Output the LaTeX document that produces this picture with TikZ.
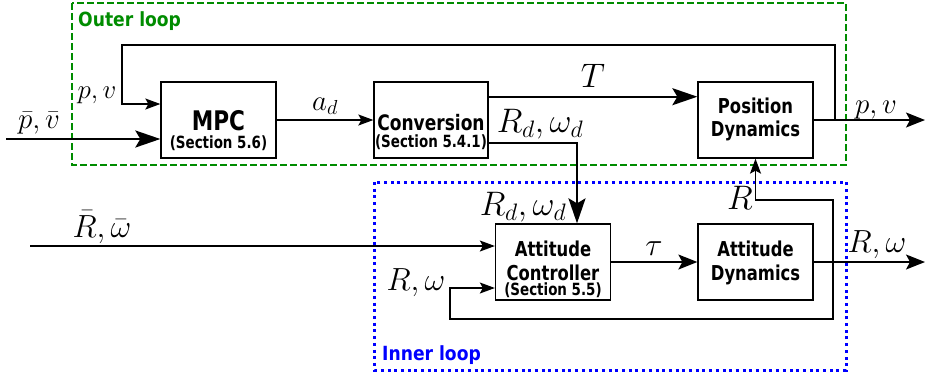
\RequirePackage{fix-cm}
\documentclass[tikz,border=0pt]{standalone}
\usepackage{fontspec}
\setsansfont{DejaVu Sans}
\newfontfamily\boxfont[FakeStretch=0.8]{DejaVu Sans Bold}
\newfontfamily\loopfont[FakeStretch=0.88]{DejaVu Sans Bold}
\usetikzlibrary{arrows.meta}
\definecolor{loopgreen}{RGB}{0,140,0}
\definecolor{loopblue}{RGB}{0,0,255}
\newcommand{\secfont}{\fontsize{16.8}{18}\selectfont}

\begin{document}
\begin{tikzpicture}[x=1pt,y=-1pt,
  block/.style={draw, line width=1.3pt, minimum width=115pt, minimum height=76pt,
    inner sep=0pt, align=center, text depth=0pt,
    font=\boxfont\fontsize{20.5}{23.5}\selectfont},
  wire/.style={line width=1.3pt},
  bus/.style={line width=2.2pt},
  smalltip/.style={-{Stealth[length=15pt,width=11pt,inset=3pt]}},
  midtip/.style={-{Stealth[length=19pt,width=15pt,inset=4pt]}},
  bigtip/.style={-{Stealth[length=25pt,width=17pt,inset=5pt]}},
  lab/.style={anchor=base, inner sep=0pt, font=\fontsize{29}{29}\selectfont},
  biglab/.style={lab, font=\fontsize{34}{34}\selectfont},
  midlab/.style={lab, font=\fontsize{32}{32}\selectfont},
  looplab/.style={anchor=base west, inner sep=0pt, font=\loopfont\fontsize{19.5}{20}\selectfont}
]
\useasboundingbox (0,0) rectangle (925,376);

% loop frames
\draw[loopgreen, line width=2pt, dash pattern=on 6.7pt off 3.3pt] (72,3) rectangle (846,165);
\draw[loopblue, line width=3pt, dash pattern=on 3pt off 3.7pt] (374.5,182) rectangle (846,370);
\node[looplab, text=loopgreen] (outerlab) at (78,26) {Outer loop};
\node[looplab, text=loopblue] (innerlab) at (382,360) {Inner loop};

% blocks (text height places the last baseline below the centre)
\node[block, text height=56pt] (mpc) at (218.5,120)
  {{\fontsize{27}{27}\selectfont MPC}\\[-6pt]{\secfont (Section 5.6)}};
\node[block, minimum width=114pt, text height=54pt] (conv) at (431,120)
  {{\fontsize{21.3}{23.5}\selectfont Conversion}\\[-6.5pt]{\secfont (Section 5.4.1)}};
\node[block, text height=33.4pt] (posdyn) at (755.5,120) {Position\\Dynamics};
\node[block, text height=66pt] (attctrl) at (553,262)
  {Attitude\\Controller\\[-8.5pt]{\secfont (Section 5.5)}};
\node[block, text height=36pt] (attdyn) at (755.5,262) {Attitude\\Dynamics};

% free ends and branch points
\coordinate (pin) at (6,139);
\coordinate (pvout) at (925,120);
\coordinate (pvtap) at (835,120);
\coordinate (pvtop) at (835,45);
\coordinate (pvleft) at (122,45);
\coordinate (rin) at (30,246);
\coordinate (rwout) at (925,262);
\coordinate (rwtap) at (833,262);
\coordinate (rwbot) at (833,319);
\coordinate (rwleft) at (450,319);
\coordinate (rtop) at (833,200);

% outer loop signals
\draw[bus, bigtip] (pin) -- ([yshift=-19pt]mpc.west);
\draw[wire, smalltip] (mpc.east) -- (conv.west);
\draw[bus, bigtip] ([yshift=23.3pt]conv.east) -- ([yshift=23.3pt]posdyn.west);
\draw[wire, midtip] (posdyn.east) -- (pvout);
\draw[wire, smalltip] (pvtap) -- (pvtop) -- (pvleft) |- ([yshift=16pt]mpc.west);
\draw[bus, bigtip] ([yshift=-22.7pt]conv.east) -| ([xshift=24pt]attctrl.north);

% inner loop signals
\draw[wire, smalltip] (rin) -- ([yshift=16pt]attctrl.west);
\draw[wire, midtip] (attctrl.east) -- (attdyn.west);
\draw[wire, midtip] (attdyn.east) -- (rwout);
\draw[wire, smalltip] (rwtap) -- (rwbot) -- (rwleft) |- ([yshift=-26pt]attctrl.west);
\draw[wire, smalltip] (rwtap) -- (rtop) -| (posdyn.south);

% signal labels
\node[lab] (lpbar) at (39,128) {$\bar p,\bar v$};
\node[lab, font=\fontsize{27}{27}\selectfont] (lpvfb) at (97,98) {$p,v$};
\node[lab] (lad) at (325,110) {$a_d$};
\node[biglab] (lT) at (593,87) {$T$};
\node[biglab] (lrd1) at (540,132) {$R_d,\omega_d$};
\node[lab] (lpvout) at (876,113) {$p,v$};
\node[biglab] (lrd2) at (523,215) {$R_d,\omega_d$};
\node[biglab] (lR) at (740,209) {$R$};
\node[midlab] (lrbar) at (102,237) {$\bar R,\bar\omega$};
\node[midlab] (lrwfb) at (416,290) {$R,\omega$};
\node[midlab] (ltau) at (654,255) {$\tau$};
\node[midlab] (lrwout) at (877,252) {$R,\omega$};
\end{tikzpicture}
\end{document}
